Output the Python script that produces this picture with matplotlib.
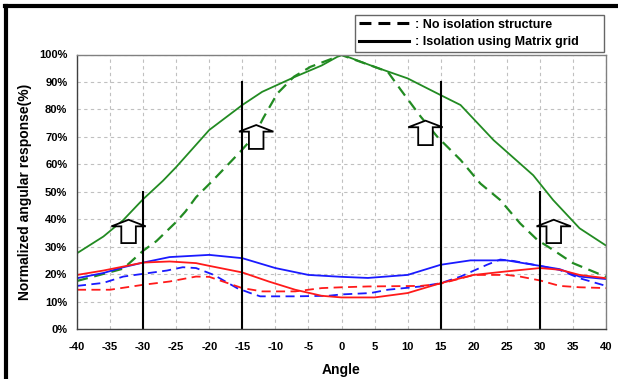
import matplotlib
matplotlib.use("Agg")
import matplotlib.pyplot as plt
from matplotlib.lines import Line2D
from matplotlib.patches import Polygon

plt.rcParams['font.family'] = ['Liberation Sans', 'DejaVu Sans']

# Green: main (on-axis) response
green_solid_x = [-40, -36, -33, -30, -27, -25, -20, -15, -12, -7, -3, 0, 5, 10, 15, 18, 23, 29, 32, 36, 40]
green_solid_y = [27.6, 33.7, 39.7, 47.3, 54, 59, 72.5, 81.6, 86.4, 91.9, 96, 100, 95.5, 91.3, 85.2, 81.6, 68.8, 56, 47, 36.7, 30.4]
green_dash_x = [-40, -33, -30, -28, -25, -23.6, -22, -19.5, -15.3, -13.3, -11.8, -9.7, -7.2, -4.7, 0, 5, 7, 9, 12, 14.5, 18, 21, 24, 27, 29.6, 32, 35, 40]
green_dash_y = [17.5, 22, 28.5, 32, 39, 42.8, 48, 54, 64.6, 70, 77, 85.8, 91.9, 95.5, 99.8, 95.5, 93.7, 87, 77.3, 70, 61.6, 53, 47, 38.5, 32.5, 28.8, 24, 19]

# Blue: neighbouring response
blue_solid_x = [-40, -36, -33, -30, -26, -20, -15, -10, -5, 0, 4, 10, 15, 19.5, 25, 30, 33, 36, 40]
blue_solid_y = [18.5, 20.4, 22.5, 24.2, 26.2, 27, 25.8, 22.2, 19.7, 19, 18.6, 19.7, 23.4, 25, 25, 23, 21.8, 19.1, 18.2]
blue_dash_x = [-40, -36, -33, -30, -26.4, -24, -22, -19.3, -15.8, -13.8, -12.3, -7, -2, 0, 4.4, 7, 12, 15, 18, 22, 24, 26, 30, 33, 36, 40]
blue_dash_y = [15.7, 16.8, 19.1, 20.1, 21.3, 22.5, 22.2, 19.7, 14.9, 13.1, 11.9, 11.9, 12.1, 12.6, 13.1, 14.3, 15.5, 16.7, 19.1, 23.4, 25.3, 24.8, 23, 21.5, 18.5, 15.7]

# Red: neighbouring response
red_solid_x = [-40, -36, -30, -26, -22, -20, -15, -11, -7, -3, 0, 5, 10, 15, 20, 25, 30, 33, 36, 40]
red_solid_y = [19.7, 21.3, 24.2, 24.6, 24, 23, 20.6, 17.3, 14.3, 12.1, 11.5, 11.5, 13.1, 16.7, 19.7, 21, 22.2, 21.6, 19.7, 18.5]
red_dash_x = [-40, -35, -30, -26, -22, -20, -15, -12, -7, -3, 0, 4, 12, 15, 20, 25, 27, 30, 33, 36, 40]
red_dash_y = [14.3, 14.3, 16.1, 17.3, 19.1, 19, 14.9, 13.7, 13.7, 14.9, 15.2, 15.5, 15.7, 16.5, 19.7, 19.7, 19.1, 17.7, 15.7, 15.2, 14.9]

# Reference angles marked with vertical lines, and their heights (%)
marker_angles = [-30, -15, 15, 30]
marker_heights = [50, 90, 90, 50]

# Hollow arrows: centre angle, base (%) and tip (%)
arrow_centers = [-32.2, -12.9, 12.7, 32.1]
arrow_bases = [31.3, 65.6, 67.0, 31.3]
arrow_tips = [39.8, 74.3, 75.9, 39.8]

x_ticks = list(range(-40, 41, 5))
y_ticks = list(range(0, 101, 10))

fig = plt.figure(figsize=(6.18, 3.79), dpi=100)
ax = fig.add_axes([77 / 618, 1 - 329 / 379, (606 - 77) / 618, (329 - 54.5) / 379])

ax.set_xlim(-40, 40)
ax.set_ylim(0, 100)
ax.set_xticks(x_ticks)
ax.set_yticks(y_ticks)
ax.set_xticklabels([str(t) for t in x_ticks], fontsize=8, fontweight='bold')
ax.set_yticklabels([f"{t}%" for t in y_ticks], fontsize=8, fontweight='bold')
ax.tick_params(axis='both', length=0, pad=7)
ax.tick_params(axis='x', pad=9)
ax.grid(True, color='#c0c0c0', linestyle=(0, (3, 3)), linewidth=0.8)
ax.set_axisbelow(True)
for side, sp in ax.spines.items():
    sp.set_color('#404040' if side in ('left', 'bottom') else '#808080')
    sp.set_linewidth(1.0)

dash = (0, (5, 3))
ax.plot(green_solid_x, green_solid_y, color='#228B22', lw=1.3)
ax.plot(green_dash_x, green_dash_y, color='#228B22', lw=1.6, linestyle=dash)
ax.plot(blue_solid_x, blue_solid_y, color='#1a1aff', lw=1.3)
ax.plot(blue_dash_x, blue_dash_y, color='#1a1aff', lw=1.3, linestyle=dash)
ax.plot(red_solid_x, red_solid_y, color='#ff1a1a', lw=1.3)
ax.plot(red_dash_x, red_dash_y, color='#ff1a1a', lw=1.3, linestyle=dash)

for a, h in zip(marker_angles, marker_heights):
    ax.plot([a, a], [0, h], color='black', lw=1.5)

# Hollow up-arrows
head_half = 2.6
shaft_half = 1.1
for c, b, t in zip(arrow_centers, arrow_bases, arrow_tips):
    shoulder = t - 2.4
    pts = [(c - shaft_half, b), (c + shaft_half, b), (c + shaft_half, shoulder),
           (c + head_half, shoulder), (c, t), (c - head_half, shoulder),
           (c - shaft_half, shoulder)]
    ax.add_patch(Polygon(pts, closed=True, facecolor='white', edgecolor='black',
                         lw=1.3, zorder=5))

ax.set_xlabel('Angle', fontsize=10, fontweight='bold', labelpad=8)
ax.set_ylabel('Normalized angular response(%)', fontsize=10, fontweight='bold', labelpad=5)

handles = [Line2D([], [], color='black', lw=2.2, linestyle=(0, (3.9, 2.3))),
           Line2D([], [], color='black', lw=2.2)]
leg = fig.legend(handles, [': No isolation structure', ': Isolation using Matrix grid'],
                 loc='upper left', bbox_to_anchor=(355 / 618, 1 - 15 / 379, 249 / 618, 0),
                 mode='expand', prop={'weight': 'bold', 'size': 9}, frameon=True, fancybox=False,
                 handlelength=4.0, handletextpad=0.5, borderpad=0.3, labelspacing=0.45,
                 borderaxespad=0)
leg.get_frame().set_edgecolor('#404040')
leg.get_frame().set_linewidth(1.0)

# Figure frame: heavy top and left rules
fig.add_artist(Line2D([5 / 618, 1], [1 - 6 / 379, 1 - 6 / 379], color='black', lw=3,
                      transform=fig.transFigure))
fig.add_artist(Line2D([5.5 / 618, 5.5 / 618], [0, 1 - 6 / 379], color='black', lw=3,
                      transform=fig.transFigure))

fig.savefig('out.png', dpi=100)
